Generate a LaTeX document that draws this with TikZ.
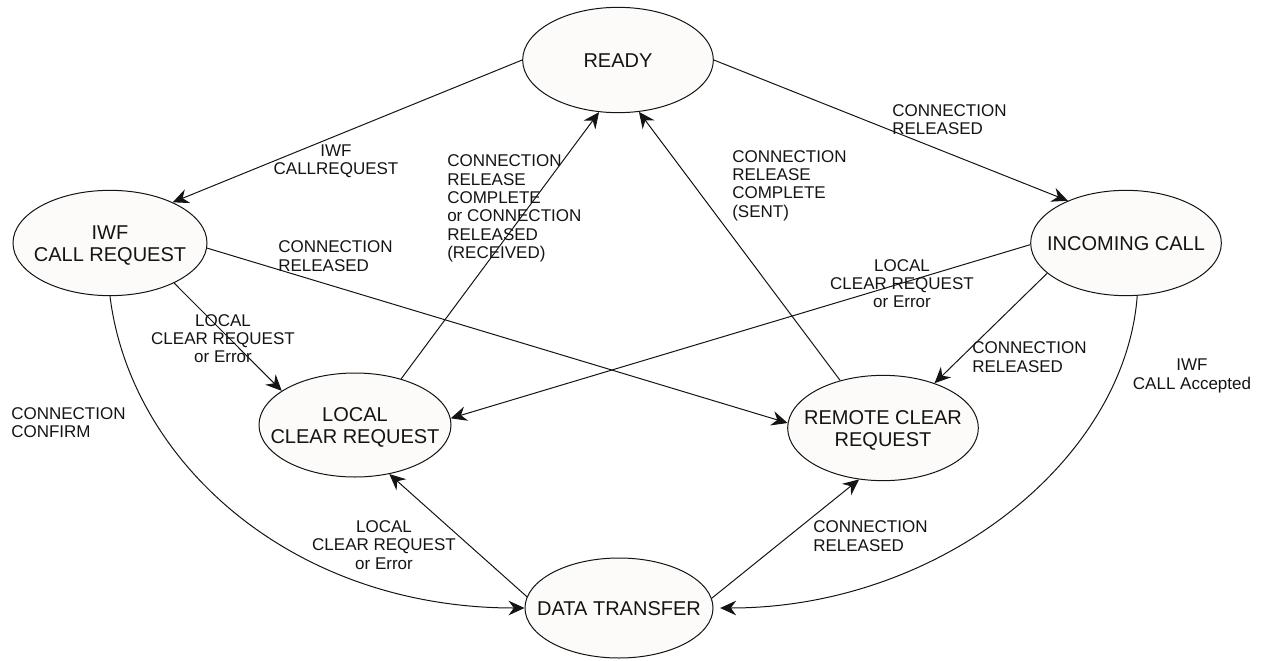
\documentclass[tikz,border=0pt]{standalone}
\usepackage{fontspec}
\setmainfont{Liberation Sans}
\usetikzlibrary{shapes.geometric,arrows.meta}
\definecolor{statefill}{RGB}{252,251,249}
\definecolor{ink}{RGB}{20,20,20}
% centred, zero-size text block for the state ellipses
\newcommand\statetext[1]{\smash{\raisebox{-5.8pt}{\makebox[0pt]{\begin{tabular}{@{}c@{}}#1\end{tabular}}}}}
\begin{document}
\begin{tikzpicture}[x=0.75pt,y=-0.75pt,
  state/.style={ellipse, draw=ink, line width=0.75pt, fill=statefill, inner sep=0pt,
    minimum width=143pt, minimum height=79pt,
    font=\fontsize{15pt}{16.5pt}\selectfont, text=ink},
  lbl/.style={inner sep=0pt, font=\fontsize{12.75pt}{13.75pt}\selectfont, text=ink},
  tr/.style={draw=ink, line width=0.75pt, -{Stealth[length=12pt,width=11pt,inset=4pt]}}]
\useasboundingbox (0,0) rectangle (1262,660);

% states
\node[state] (ready) at (618,60) {\statetext{READY}};
\node[state, minimum width=145.5pt] (iwf) at (110,243) {\statetext{IWF\\CALL REQUEST}};
\node[state] (inc) at (1126,243) {\statetext{INCOMING CALL}};
\node[state, minimum width=144pt, minimum height=78pt] (lcr) at (355,425) {\statetext{LOCAL\\CLEAR REQUEST}};
\node[state] (rcr) at (883,428) {\statetext{REMOTE CLEAR\\REQUEST}};
\node[state, minimum width=141pt, minimum height=75pt] (dt) at (619,608) {\statetext{DATA TRANSFER}};

% transitions
\draw[tr] (ready.180) -- (iwf.33);
\draw[tr] (ready.0) -- (inc.144);
\draw[tr] (iwf.357) -- (rcr.177);
\draw[tr] (iwf.328) -- (lcr.155);
\draw[tr] (iwf.270) .. controls (130,460) and (290,608) .. (dt.180);
\draw[tr] (lcr.45) -- (ready.250);
\draw[tr] (rcr.132) -- (ready.292);
\draw[tr] (inc.181) -- (lcr.4);
\draw[tr] (inc.201) -- (rcr.41);
\draw[tr] (dt.173) -- (lcr.305);
\draw[tr] (dt.6) -- (rcr.245);
\draw[tr, shorten >=5pt] (inc.282) .. controls (1125,460) and (940,608) .. (dt.0);

% transition labels
\node[lbl, align=center] (l1) at (336,161) {IWF\\CALLREQUEST};
\node[lbl, align=left, anchor=west] (l2) at (892,119.5) {CONNECTION\\RELEASED};
\node[lbl, align=left, anchor=west] (l3) at (447,208.5) {CONNECTION\\RELEASE\\COMPLETE\\or CONNECTION\\RELEASED\\(RECEIVED)};
\node[lbl, align=left, anchor=west] (l4) at (732,185.5) {CONNECTION\\RELEASE\\COMPLETE\\(SENT)};
\node[lbl, align=left, anchor=west] (l5) at (278,256) {CONNECTION\\RELEASED};
\node[lbl, align=center] (l6) at (223,338.5) {LOCAL\\CLEAR REQUEST\\or Error};
\node[lbl, align=center] (l7) at (902,283.5) {LOCAL\\CLEAR REQUEST\\or Error};
\node[lbl, align=left, anchor=west] (l8) at (972,357) {CONNECTION\\RELEASED};
\node[lbl, align=center] (l9) at (1192,376) {IWF\\CALL Accepted};
\node[lbl, align=left, anchor=west] (l10) at (11,422.5) {CONNECTION\\CONFIRM};
\node[lbl, align=center] (l11) at (384,545) {LOCAL\\CLEAR REQUEST\\or Error};
\node[lbl, align=left, anchor=west] (l12) at (813,536) {CONNECTION\\RELEASED};
\end{tikzpicture}
\end{document}
